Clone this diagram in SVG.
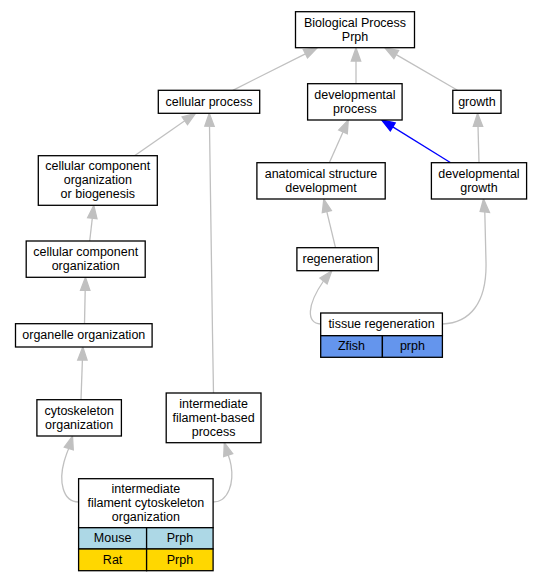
<svg xmlns="http://www.w3.org/2000/svg" width="541" height="581" viewBox="0 0 541 581">
<style>
.n rect{fill:#ffffff;stroke:#000000;stroke-width:1.3}
text{font-family:"Liberation Sans",Arial,sans-serif;font-size:12.5px;text-anchor:middle;fill:#000000}
.e path{fill:none;stroke:#c0c0c0;stroke-width:1.3}
.e polygon{fill:#c0c0c0;stroke:#c0c0c0;stroke-width:1.3}
.e .b path{stroke:#0000ff}
.e .b polygon{fill:#0000ff;stroke:#0000ff}
</style>
<rect x="0" y="0" width="541" height="581" fill="#ffffff"/>
<g id="edges" class="e">
<g><path d="M232.8,90.3 L305.4,53.8"/><polygon points="317,48 307.5,58 303.3,49.6"/></g>
<g><path d="M356,83.7 L356,61"/><polygon points="356,48 351.3,61 360.7,61"/></g>
<g><path d="M457.5,90.3 L396.2,54.6"/><polygon points="385,48 398.6,50.5 393.9,58.6"/></g>
<g><path d="M134.5,155.7 L184.8,120.7"/><polygon points="195.5,113.3 187.5,124.6 182.1,116.9"/></g>
<g><path d="M213.5,393 C212,300 210,200 209.5,126.3"/><polygon points="209.3,113.3 204.8,126.2 214.2,126.4"/></g>
<g><path d="M329.3,162.7 L343,131.9"/><polygon points="348.3,120 347.3,133.8 338.7,130"/></g>
<g class="b"><path d="M450.7,162.7 L392.8,126.9"/><polygon points="381.7,120 395.2,122.9 390.3,130.9"/></g>
<g><path d="M479,162.7 L478,126.3"/><polygon points="477.6,113.3 473.3,126.3 482.7,126.3"/></g>
<g><path d="M89.7,241 L92.3,218.2"/><polygon points="93.8,205.3 97,218.7 87.6,217.7"/></g>
<g><path d="M84.5,323.7 L85.2,290.3"/><polygon points="85.5,277.3 80.5,290.3 89.9,290.3"/></g>
<g><path d="M81,399.7 L82.4,360"/><polygon points="82.8,347 77.7,360 87.1,360"/></g>
<g><path d="M335.5,247.7 L326.8,211.6"/><polygon points="323.8,199 331.4,210.5 322.3,212.7"/></g>
<g><path d="M320.7,324 C306,323 307,305 323.5,281"/><polygon points="331.7,271 327.1,284 319.9,278"/></g>
<g><path d="M442.4,324 C470,323 487,303 486,262 C485.5,240 485,225 484.8,212"/><polygon points="483.5,199 480.1,211.5 489.5,212.5"/></g>
<g><path d="M78.6,502 C62,502 59,480 64,462 C65.5,457 67,452 68.8,448.5"/><polygon points="72.5,436 73.3,449.8 64.3,447.2"/></g>
<g><path d="M213.1,502 C229,502 234,482 231,465 C230.3,461 229.3,458 228.2,455.1"/><polygon points="224.3,442.7 232.7,453.7 223.7,456.5"/></g>
</g>
<g id="bp" class="n"><rect x="295.5" y="11.7" width="119" height="36"/><text x="355" y="26.5">Biological Process</text><text x="355" y="40.5">Prph</text></g>
<g id="cp" class="n"><rect x="158.3" y="90.3" width="101.4" height="23"/><text x="209" y="105.6">cellular process</text></g>
<g id="dp" class="n"><rect x="307.6" y="83.7" width="94.5" height="36.3"/><text x="354.9" y="98.7">developmental</text><text x="354.9" y="112.7">process</text></g>
<g id="growth" class="n"><rect x="452.8" y="90.3" width="48.2" height="23"/><text x="476.9" y="105.6">growth</text></g>
<g id="ccoob" class="n"><rect x="38.3" y="155.7" width="119" height="49.6"/><text x="97.8" y="170.3">cellular component</text><text x="97.8" y="184.3">organization</text><text x="97.8" y="198.3">or biogenesis</text></g>
<g id="asd" class="n"><rect x="256.9" y="162.7" width="128.3" height="36.3"/><text x="321" y="177.7">anatomical structure</text><text x="321" y="191.7">development</text></g>
<g id="dg" class="n"><rect x="431.4" y="162.7" width="95.2" height="36.3"/><text x="479" y="177.7">developmental</text><text x="479" y="191.7">growth</text></g>
<g id="cco" class="n"><rect x="26.2" y="241" width="119" height="36.3"/><text x="85.7" y="256">cellular component</text><text x="85.7" y="270">organization</text></g>
<g id="regen" class="n"><rect x="296.9" y="247.7" width="81.4" height="23"/><text x="337.6" y="263">regeneration</text></g>
<g id="org" class="n"><rect x="15.5" y="323.7" width="136.6" height="23.3"/><text x="83.8" y="339.2">organelle organization</text></g>
<g id="tr" class="n"><rect x="320.7" y="313" width="121.7" height="22.7"/><text x="381.55" y="328.2">tissue regeneration</text><rect x="320.7" y="335.7" width="61.7" height="21.6" style="fill:#6495ed"/><rect x="382.4" y="335.7" width="60" height="21.6" style="fill:#6495ed"/><text x="351.5" y="350.3">Zfish</text><text x="412.4" y="350.3">prph</text></g>
<g id="cyto" class="n"><rect x="36.9" y="399.7" width="84.5" height="36.3"/><text x="79.15" y="414.7">cytoskeleton</text><text x="79.15" y="428.7">organization</text></g>
<g id="ifbp" class="n"><rect x="166.2" y="393" width="94.8" height="49.7"/><text x="213.6" y="407.7">intermediate</text><text x="213.6" y="421.7">filament-based</text><text x="213.6" y="435.7">process</text></g>
<g id="ifco" class="n"><rect x="78.6" y="478.7" width="134.5" height="49"/><text x="145.85" y="493">intermediate</text><text x="145.85" y="507">filament cytoskeleton</text><text x="145.85" y="521">organization</text><rect x="78.6" y="527.7" width="68" height="21.3" style="fill:#add8e6"/><rect x="146.6" y="527.7" width="66.5" height="21.3" style="fill:#add8e6"/><text x="112.6" y="542.2">Mouse</text><text x="179.9" y="542.2">Prph</text><rect x="78.6" y="549" width="68" height="21.7" style="fill:#ffd700"/><rect x="146.6" y="549" width="66.5" height="21.7" style="fill:#ffd700"/><text x="112.6" y="563.7">Rat</text><text x="179.9" y="563.7">Prph</text></g>
</svg>
